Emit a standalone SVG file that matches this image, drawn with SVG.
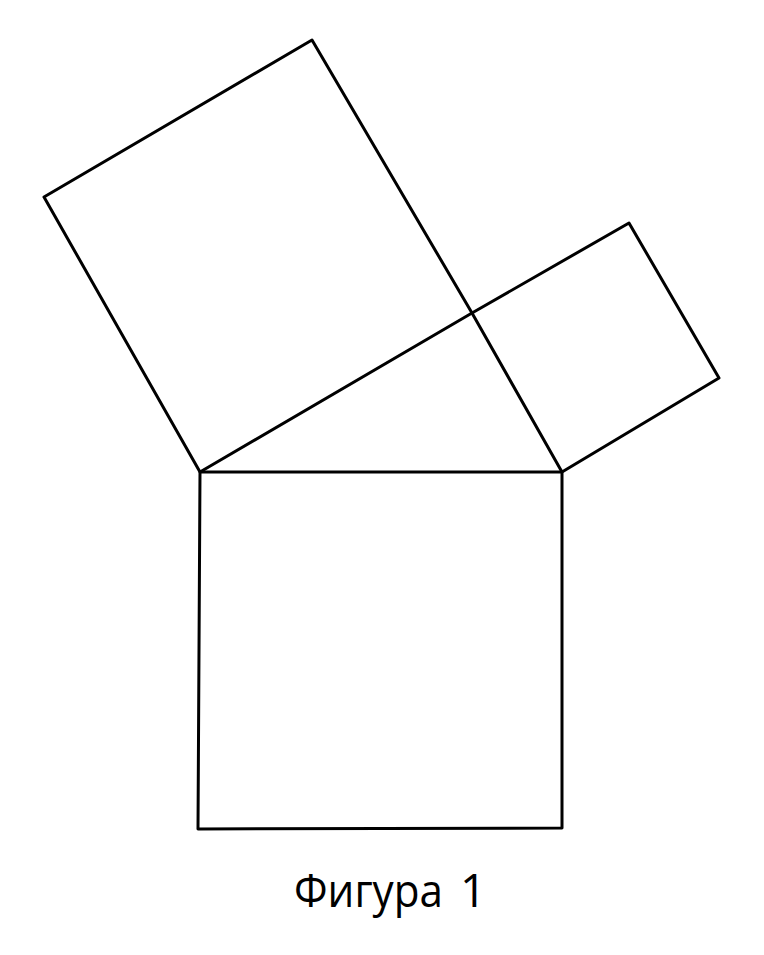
<svg xmlns="http://www.w3.org/2000/svg" width="764" height="955" viewBox="0 0 764 955">
<style>
.s{fill:none;stroke:#000;stroke-width:3;stroke-linejoin:round;stroke-linecap:round}
.t{font-family:"Open Sans","Noto Sans",sans-serif;font-size:46px;fill:#000}
</style>
<rect width="764" height="955" fill="#fff"/>
<g id="square-hypotenuse"><polygon class="s" points="200,472 562,472 562,828 198,829"/></g>
<g id="square-large"><polygon class="s" points="200,472 472,313 312,40 44,197"/></g>
<g id="square-small"><polygon class="s" points="472,313 562,472 719,378 629,223"/></g>
<g id="label"><text class="t" y="907"><tspan x="294" textLength="149" lengthAdjust="spacingAndGlyphs">Фигура</tspan> <tspan x="460">1</tspan></text></g>
</svg>
